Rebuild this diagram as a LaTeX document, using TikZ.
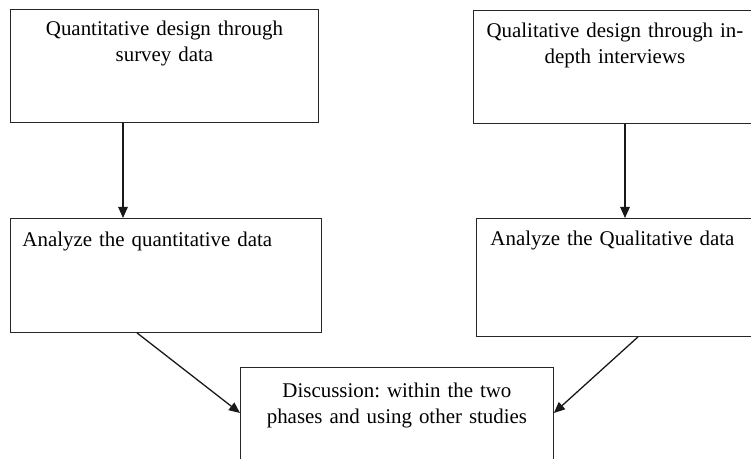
\documentclass[tikz,border=0pt]{standalone}
\usepackage{fontspec}
\setmainfont{Liberation Serif}
\frenchspacing
\usetikzlibrary{arrows.meta,positioning}

\begin{document}
\begin{tikzpicture}[x=1bp, y=-1bp,
  box/.style={draw=black!85, line width=0.9bp, inner ysep=0pt, anchor=north west,
    font=\fontsize{21}{26}\selectfont},
  arr/.style={-{Triangle[length=11bp,width=9.5bp]}, line width=1.3bp, black!90}]
\useasboundingbox (0,0) rectangle (751,459);

% Design boxes (top row)
\node[box, inner xsep=4bp, text width=300bp, align=center, text height=26bp, text depth=87bp]
  (quant) at (10,9) {Quantitative design through\\survey data};
\node[box, inner xsep=4bp, text width=275bp, align=center, text height=27bp, text depth=86bp]
  (qual) at (473,10) {Qualitative design through in-\\depth interviews};

% Analysis boxes (middle row)
\node[box, inner xsep=12bp, text width=287bp, align=left, text height=28bp, text depth=86bp]
  (anquant) at (10,218) {Analyze the quantitative data};
\node[box, inner xsep=14bp, text width=270bp, align=left, text height=27bp, text depth=91bp]
  (anqual) at (476,218) {Analyze the Qualitative data};

% Discussion box (bottom)
\node[box, inner xsep=4bp, text width=305bp, align=center, text height=30bp, text depth=110bp]
  (disc) at (240,367) {Discussion: within the two\\phases and using other studies};

% Arrows
\draw[arr] ([xshift=113bp]quant.south west) -- ([xshift=113bp]quant.south west |- anquant.north);
\draw[arr] ([xshift=152bp]qual.south west) -- ([xshift=152bp]qual.south west |- anqual.north);
\draw[arr] ([xshift=127bp]anquant.south west) -- ([yshift=-46bp]disc.north west);
\draw[arr] ([xshift=162bp]anqual.south west) -- ([yshift=-46bp]disc.north east);
\end{tikzpicture}
\end{document}
